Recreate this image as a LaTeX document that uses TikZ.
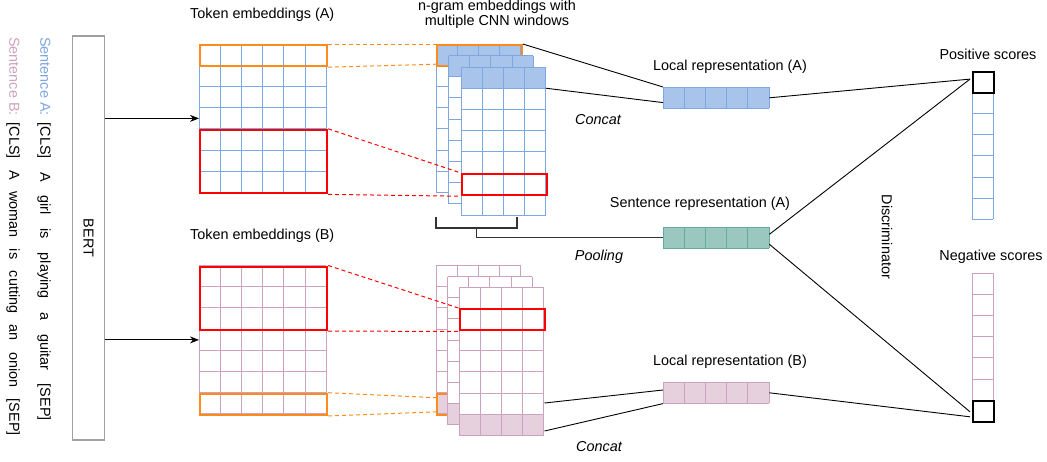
\documentclass[tikz,border=0pt]{standalone}
\usepackage{fontspec}
\setmainfont{Liberation Sans}
\usetikzlibrary{arrows.meta,calc}
\definecolor{blueS}{HTML}{7EA6E0}
\definecolor{blueF}{HTML}{A9C4EB}
\definecolor{pinkS}{HTML}{CDA2BE}
\definecolor{pinkF}{HTML}{E6D0DE}
\definecolor{tealS}{HTML}{67AB9F}
\definecolor{tealF}{HTML}{9AC7BF}
\definecolor{orangeC}{HTML}{FF8C1A}
\definecolor{redC}{HTML}{FF0000}
\definecolor{bertG}{HTML}{A0A0A0}
\definecolor{brk}{HTML}{333333}
\def\cw{21.2}
% #1 x, #2 y, #3 cols, #4 rows, #5 stroke, #6 fill of filled row, #7 filled row (0 = none)
\newcommand\mygrid[7]{%
  \fill[white] (#1,#2) rectangle ++(#3*\cw,#4*\cw);
  \ifnum#7>0 \fill[#6] (#1,{#2+(#7-1)*\cw}) rectangle ++(#3*\cw,\cw);\fi
  \foreach \i in {0,...,#3}{\draw[#5,gridline] ({#1+\i*\cw},#2) -- ++(0,#4*\cw);}
  \foreach \j in {0,...,#4}{\draw[#5,gridline] (#1,{#2+\j*\cw}) -- ++(#3*\cw,0);}
}
\begin{document}
\begin{tikzpicture}[x=1pt,y=-1pt,
  every node/.style={font=\fontsize{14.4}{15.5}\selectfont, inner sep=0pt},
  gridline/.style={line width=0.9pt},
  hl/.style={draw, line width=2pt, inner sep=0pt, anchor=north west, minimum height=21.2pt},
  wide/.style={minimum width=127.2pt},
  narrow/.style={minimum width=84.8pt},
  vec/.style={anchor=north west, inner sep=0pt, minimum width=106pt, minimum height=21.2pt},
  dsh/.style={dash pattern=on 4pt off 3pt, line width=1pt},
  conn/.style={line width=0.9pt, black},
  arr/.style={line width=0.9pt, -{Stealth[length=9pt,width=7pt]}},
  it/.style={font=\fontsize{14.4}{15.5}\selectfont\itshape}
]
\useasboundingbox (0,0) rectangle (1047,461);

% ---------- left: sentences and BERT ----------
\node[rotate=-90, anchor=west] (sa) at (44,37)
  {{\color{blueS}Sentence\kern4pt A:}\hspace{7pt}\makebox[298pt][s]{[CLS] A girl is playing a guitar [SEP]}};
\node[rotate=-90, anchor=west] (sb) at (13,37)
  {{\color{pinkS}Sentence\kern4pt B:}\hspace{7pt}\makebox[313pt][s]{[CLS] A woman is cutting an onion [SEP]}};
\node[draw=bertG, line width=1.6pt, minimum width=32pt, minimum height=404pt] (bert) at (88.5,238) {};
\node[rotate=-90] (bertl) at (bert.center) {BERT};

% ---------- token embeddings ----------
\node[anchor=west] (tlA) at (190,15) {Token embeddings (A)};
\node[anchor=west] (tlB) at (190,236) {Token embeddings (B)};
\mygrid{199}{44}{6}{7}{blueS}{white}{0}
\mygrid{199}{265.5}{6}{7}{pinkS}{white}{0}
\node[anchor=north west, minimum width=127.2pt, minimum height=148.4pt] (tokA) at (199,44) {};
\node[anchor=north west, minimum width=127.2pt, minimum height=148.4pt] (tokB) at (199,265.5) {};
\node[hl, wide, draw=orangeC] (oA1) at (199,44) {};
\node[hl, wide, draw=redC, minimum height=63.6pt] (rA1) at (199,128.8) {};
\node[hl, wide, draw=redC, minimum height=63.6pt] (rB1) at (199,265.5) {};
\node[hl, wide, draw=orangeC] (oB1) at (199,392.7) {};

\draw[arr] (bert.east |- tokA.west) -- (tokA.west);
\draw[arr] (bert.east |- tokB.west) -- (tokB.west);

% ---------- CNN stacks ----------
\node[align=center] (ngl) at (497,14.5) {n-gram embeddings with\\multiple CNN windows};
\mygrid{436}{44}{4}{7}{blueS}{blueF}{1}
\node[hl, narrow, draw=orangeC] (oA2) at (436,44) {};
\mygrid{448.5}{55.5}{4}{7}{blueS}{blueF}{1}
\mygrid{461}{67}{4}{7}{blueS}{blueF}{1}
\node[hl, narrow, draw=redC] (rA2) at (461,173) {};
\coordinate (cA) at (545.8,88.2);

\mygrid{436}{265.5}{4}{7}{pinkS}{pinkF}{7}
\node[hl, narrow, draw=orangeC] (oB2) at (436,392.7) {};
\mygrid{447.5}{276.5}{4}{7}{pinkS}{pinkF}{7}
\mygrid{459}{287}{4}{7}{pinkS}{pinkF}{7}
\node[hl, narrow, draw=redC] (rB2) at (459,308.2) {};
\coordinate (cB1) at (544.5,403);
\coordinate (cB2) at (544.5,431);

% dashed correspondences
\draw[dsh, orangeC] (oA1.north east) -- (oA2.north west);
\draw[dsh, orangeC] (oA1.south east) -- ([yshift=3pt]oA2.south west);
\draw[dsh, redC] (rA1.north east) -- (rA2.north west);
\draw[dsh, redC] (rA1.south east) -- (rA2.south west);
\draw[dsh, redC] (rB1.north east) -- (rB2.north west);
\draw[dsh, redC] (rB1.south east) -- (rB2.south west);
\draw[dsh, orangeC] (oB1.north east) -- ([yshift=-5pt]oB2.north west);
\draw[dsh, orangeC] (oB1.south east) -- ([yshift=4pt]oB2.south west);

% bracket and pooling
\coordinate (brL) at (436,217);
\coordinate (brR) at (517,217);
\draw[brk, line width=1.1pt] (brL) -- ++(0,11) -- (517,228) -- (brR);

% ---------- representations ----------
\node[vec] (locA) at (663,87) {};
\mygrid{663}{87}{5}{1}{blueS}{blueF}{1}
\node[vec] (sentA) at (663,227) {};
\mygrid{663}{227}{5}{1}{tealS}{tealF}{1}
\node[vec] (locB) at (663,382) {};
\mygrid{663}{382}{5}{1}{pinkS}{pinkF}{1}

\draw[brk, line width=1.1pt] (476.5,228) |- (sentA.west);

\node (llA) at (730,67) {Local representation (A)};
\node (slA) at (700,204) {Sentence representation (A)};
\node (llB) at (730,362) {Local representation (B)};
\node[it] (cc1) at (598,120) {Concat};
\node[it] (pl) at (599,257) {Pooling};
\node[it] (cc2) at (599,447) {Concat};

\draw[conn] (oA2.north east) -- (locA.north west);
\draw[conn] (cA) -- ([yshift=6pt]locA.south west);
\draw[conn] (cB1) -- ([yshift=-8pt]locB.north west);
\draw[conn] (cB2) -- (locB.south west);

% ---------- scores ----------
\node (psl) at (988,54) {Positive scores};
\node (nsl) at (991,257) {Negative scores};
\mygrid{972}{71}{1}{7}{blueS}{white}{0}
\mygrid{972}{273}{1}{7}{pinkS}{white}{0}
\node[hl, draw=black, minimum width=21.2pt] (pos) at (972,71) {};
\node[hl, draw=black, minimum width=21.2pt] (neg) at (972,400.2) {};
\node[rotate=-90] (disc) at (887,237) {Discriminator};

\draw[conn] (locA.east) -- ([shift={(-2pt,3.5pt)}]pos.west);
\draw[conn] ([yshift=3.5pt]sentA.east) -- ([shift={(-2pt,3.5pt)}]pos.west);
\draw[conn] ([yshift=-6.5pt]sentA.east) -- ([xshift=-2pt]neg.west);
\draw[conn] (locB.east) -- ([shift={(-2pt,-5pt)}]neg.west);
\end{tikzpicture}
\end{document}
